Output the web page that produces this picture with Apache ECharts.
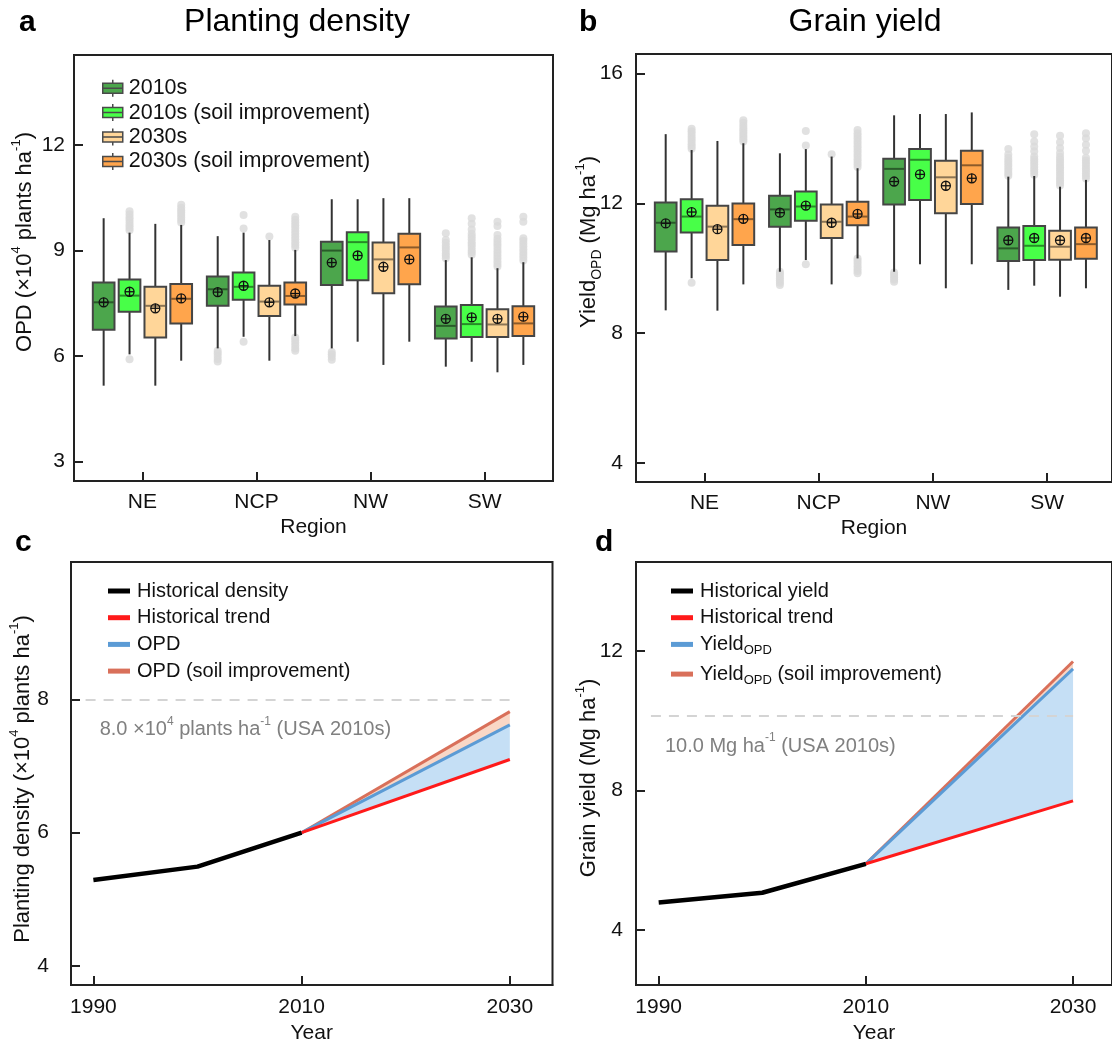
<!DOCTYPE html>
<html>
<head>
<meta charset="utf-8">
<title>Planting density and grain yield</title>
<script src="https://cdn.jsdelivr.net/npm/echarts@6/dist/echarts.min.js"></script>
<style>
  html, body { margin: 0; padding: 0; background: #fff; }
  #chart { width: 1112px; height: 1045px; }
</style>
</head>
<body>
<div id="chart"></div>
<script>
'use strict';

// ---------- data: panels a & b (box plots) ----------
const regions = ['NE', 'NCP', 'NW', 'SW'];
const groups = ['2010s', '2010s (soil improvement)', '2030s', '2030s (soil improvement)'];

// one row per region: [low whisker, Q1, median, Q3, high whisker, mean]
const density2010 = [
  [5.16, 6.75, 7.53, 8.09, 9.92, 7.53],
  [6.22, 7.43, 7.90, 8.26, 9.41, 7.82],
  [6.22, 8.02, 9.00, 9.25, 10.46, 8.66],
  [5.70, 6.50, 6.86, 7.41, 8.73, 7.06]
];
const density2010Soil = [
  [6.05, 7.26, 7.72, 8.18, 9.51, 7.83],
  [6.55, 7.60, 7.97, 8.38, 9.51, 8.00],
  [6.41, 8.16, 9.24, 9.52, 10.46, 8.86],
  [5.84, 6.54, 6.91, 7.45, 8.81, 7.10]
];
const density2030 = [
  [5.16, 6.53, 7.43, 7.97, 9.76, 7.36],
  [5.87, 7.14, 7.55, 8.00, 9.30, 7.53],
  [5.75, 7.79, 8.75, 9.23, 10.49, 8.54],
  [5.54, 6.54, 6.90, 7.33, 8.50, 7.06]
];
const density2030Soil = [
  [5.87, 6.93, 7.63, 8.05, 9.73, 7.64],
  [6.57, 7.47, 7.71, 8.09, 9.02, 7.78],
  [6.41, 8.04, 9.09, 9.48, 10.49, 8.75],
  [5.75, 6.57, 6.93, 7.42, 8.67, 7.12]
];

// outliers, one list per region
const densityOut2010 = [[], [5.85, 5.92, 6.0, 6.08, 6.15], [5.9, 5.98, 6.05, 6.12],
  [8.78, 8.85, 8.92, 9.0, 9.07, 9.14, 9.22, 9.3, 9.49]];
const densityOut2010Soil = [[5.91, 9.58, 9.65, 9.72, 9.8, 9.88, 9.95, 10.03, 10.12], [6.41, 9.63, 10.01], [],
  [8.88, 8.95, 9.02, 9.1, 9.17, 9.24, 9.32, 9.4, 9.48, 9.6, 9.76, 9.92]];
const densityOut2030 = [[], [9.4], [],
  [8.55, 8.62, 8.7, 8.78, 8.86, 8.94, 9.02, 9.1, 9.18, 9.26, 9.34, 9.44, 9.7, 9.82]];
const densityOut2030Soil = [[9.8, 9.87, 9.94, 10.01, 10.08, 10.15, 10.22, 10.3],
  [6.15, 6.22, 6.3, 6.38, 6.46, 6.53, 9.08, 9.16, 9.24, 9.32, 9.4, 9.48, 9.56, 9.64, 9.72, 9.8, 9.88, 9.96], [],
  [8.72, 8.8, 8.88, 8.96, 9.04, 9.12, 9.2, 9.28, 9.35, 9.82, 9.96]];

const yield2010 = [
  [8.70, 10.51, 11.40, 12.02, 14.13, 11.38],
  [9.89, 11.28, 11.81, 12.23, 13.54, 11.71],
  [9.89, 11.96, 13.06, 13.37, 14.71, 12.67],
  [9.33, 10.22, 10.61, 11.25, 12.82, 10.86]
];
const yield2010Soil = [
  [9.69, 11.10, 11.59, 12.12, 13.64, 11.73],
  [10.25, 11.46, 11.90, 12.36, 13.67, 11.93],
  [10.12, 12.10, 13.34, 13.67, 14.75, 12.89],
  [9.46, 10.25, 10.69, 11.30, 12.84, 10.93]
];
const yield2030 = [
  [8.69, 10.25, 11.28, 11.92, 13.92, 11.20],
  [9.50, 10.93, 11.43, 11.96, 13.44, 11.40],
  [9.38, 11.69, 12.80, 13.31, 14.75, 12.54],
  [9.12, 10.26, 10.66, 11.15, 12.51, 10.86]
];
const yield2030Soil = [
  [9.50, 10.71, 11.51, 11.99, 13.85, 11.52],
  [10.30, 11.32, 11.59, 12.05, 13.08, 11.67],
  [10.12, 11.98, 13.17, 13.62, 14.80, 12.77],
  [9.38, 10.29, 10.74, 11.25, 12.72, 10.93]
];

const yieldOut2010 = [[], [9.48, 9.55, 9.62, 9.69, 9.76, 9.83, 9.89], [9.58, 9.65, 9.72, 9.8, 9.87],
  [12.85, 12.92, 13.0, 13.08, 13.16, 13.24, 13.32, 13.4, 13.5, 13.67]];
const yieldOut2010Soil = [[9.55, 13.68, 13.75, 13.82, 13.9, 13.98, 14.06, 14.14, 14.22, 14.3], [10.12, 13.78, 14.23], [],
  [12.88, 12.96, 13.04, 13.12, 13.2, 13.28, 13.36, 13.44, 13.6, 13.75, 13.9, 14.13]];
const yieldOut2030 = [[], [13.51], [],
  [12.55, 12.63, 12.71, 12.79, 12.87, 12.95, 13.03, 13.11, 13.19, 13.27, 13.35, 13.43, 13.55, 13.7, 13.88, 14.08]];
const yieldOut2030Soil = [[13.9, 13.97, 14.04, 14.11, 14.18, 14.25, 14.32, 14.4, 14.48, 14.56],
  [9.84, 9.91, 9.98, 10.06, 10.14, 10.22, 10.3, 13.12, 13.2, 13.28, 13.36, 13.44, 13.52, 13.6, 13.68, 13.76, 13.84, 13.92, 14.0, 14.08, 14.16, 14.26], [],
  [12.76, 12.84, 12.92, 13.0, 13.08, 13.16, 13.24, 13.32, 13.4, 13.62, 13.8, 14.0, 14.16]];

// ---------- data: panels c & d (trends) ----------
const histYears = [1990, 2000, 2010];
const projYears = [2010, 2030];
const histDensity = [5.29, 5.49, 6.0];
const trendDensity = [6.0, 7.10];
const opdDensity = [6.0, 7.62];
const opdSoilDensity = [6.0, 7.82];
const usaDensity = 8.0;
const histYield = [4.79, 5.07, 5.90];
const trendYield = [5.90, 7.70];
const opdYield = [5.90, 11.48];
const opdSoilYield = [5.90, 11.69];
const usaYield = 10.13;

// tick labels
const densityTicks = [3, 6, 9, 12];
const yieldTicks = [4, 8, 12, 16];
const lineDensityTicks = [4, 6, 8];
const lineYieldTicks = [4, 8, 12];
const yearTicks = [1990, 2010, 2030];

// ---------- style ----------
const FONT = '"Liberation Sans", Arial, Helvetica, sans-serif';
const BOX_OFFSETS = [-0.34, -0.113, 0.113, 0.34];
const BOX_WIDTH = 0.19;
const BOX_COLORS = ['#4ca64c', '#48ff48', '#ffd699', '#ffa54c'];
const C_BLACK = '#000000', C_RED = '#ff1a1a', C_BLUE = '#5b9bd5', C_SALMON = '#d9705a';
const C_BAND_BLUE = '#c5dff5', C_BAND_PEACH = '#f9d7c6';

const chart = echarts.init(document.getElementById('chart'));

function boxRenderer(offset, fill) {
  return function (params, api) {
    const x = api.value(0) + offset;
    const low = api.coord([x, api.value(1)]);
    const q1 = api.coord([x, api.value(2)]);
    const med = api.coord([x, api.value(3)]);
    const q3 = api.coord([x, api.value(4)]);
    const high = api.coord([x, api.value(5)]);
    const mean = api.coord([x, api.value(6)]);
    const w = api.size([BOX_WIDTH, 0])[0];
    const cx = q1[0];
    const r = 4.5;
    return {
      type: 'group',
      children: [
        { type: 'line', shape: { x1: cx, y1: high[1], x2: cx, y2: low[1] }, style: { stroke: '#333', lineWidth: 2 } },
        { type: 'rect', shape: { x: cx - w / 2, y: q3[1], width: w, height: q1[1] - q3[1] },
          style: { fill: fill, stroke: '#454545', lineWidth: 2 } },
        { type: 'line', shape: { x1: cx - w / 2 + 1, y1: med[1], x2: cx + w / 2 - 1, y2: med[1] },
          style: { stroke: 'rgba(0,0,0,0.45)', lineWidth: 2 } },
        { type: 'circle', shape: { cx: cx, cy: mean[1], r: r }, style: { fill: 'none', stroke: '#111', lineWidth: 1.3 } },
        { type: 'line', shape: { x1: cx - r, y1: mean[1], x2: cx + r, y2: mean[1] }, style: { stroke: '#111', lineWidth: 1.3 } },
        { type: 'line', shape: { x1: cx, y1: mean[1] - r, x2: cx, y2: mean[1] + r }, style: { stroke: '#111', lineWidth: 1.3 } }
      ]
    };
  };
}

function boxSeries(rowsList, outList, gi) {
  const list = rowsList.map((rows, g) => ({
    type: 'custom',
    name: groups[g],
    xAxisIndex: gi,
    yAxisIndex: gi,
    z: 3,
    silent: true,
    itemStyle: { color: BOX_COLORS[g] },
    renderItem: boxRenderer(BOX_OFFSETS[g], BOX_COLORS[g]),
    data: rows.map((r, i) => [i + 1].concat(r))
  }));
  const pts = [];
  outList.forEach((perRegion, g) => {
    perRegion.forEach((vals, i) => {
      vals.forEach(v => pts.push([i + 1 + BOX_OFFSETS[g], v]));
    });
  });
  list.push({
    type: 'scatter', name: 'outliers', xAxisIndex: gi, yAxisIndex: gi, z: 2, silent: true,
    symbolSize: 8, itemStyle: { color: '#dadada' }, data: pts
  });
  return list;
}

function lineSeries(name, xs, ys, color, width, gi, z) {
  return {
    type: 'line', name: name, xAxisIndex: gi, yAxisIndex: gi, z: z, silent: true,
    symbol: 'none', showSymbol: false,
    data: xs.map((x, i) => [x, ys[i]]),
    lineStyle: { color: color, width: width, cap: 'butt' },
    itemStyle: { color: color }
  };
}

function bandSeries(lo, hi, color, gi) {
  const data = projYears.slice(1).map((x, i) => [projYears[i], lo[i], hi[i], x, lo[i + 1], hi[i + 1]]);
  return {
    type: 'custom', xAxisIndex: gi, yAxisIndex: gi, z: 1, silent: true, data: data,
    renderItem: (params, api) => ({
      type: 'polygon',
      shape: { points: [
        api.coord([api.value(0), api.value(1)]),
        api.coord([api.value(3), api.value(4)]),
        api.coord([api.value(3), api.value(5)]),
        api.coord([api.value(0), api.value(2)])
      ] },
      style: { fill: color }
    })
  };
}

function refLine(value) {
  return {
    silent: true, symbol: ['none', 'none'], label: { show: false },
    lineStyle: { color: '#d4d4d4', type: [10, 8], width: 2 },
    data: [[{ coord: [1989.25, value] }, { coord: [2030, value] }]]
  };
}

function valueAxis(gi, min, max, ticks, margin, formatter, extra) {
  return Object.assign({
    type: 'value', gridIndex: gi, min: min, max: max,
    axisLine: { show: true, onZero: false, lineStyle: { color: '#222', width: 2 } },
    axisTick: { show: true, inside: true, length: 9, customValues: ticks, lineStyle: { color: '#222', width: 2 } },
    axisLabel: { customValues: ticks, margin: margin, fontSize: 21, color: '#111', fontFamily: FONT, formatter: formatter },
    splitLine: { show: false }
  }, extra || {});
}

const xName = (name, gap) => ({
  name: name, nameLocation: 'middle', nameGap: gap,
  nameTextStyle: { fontSize: 21, color: '#111', fontFamily: FONT }
});

const regionFmt = v => regions[Math.round(v) - 1] || '';
const plainFmt = v => String(v);

const gridStyle = { show: true, borderColor: '#222', borderWidth: 2, backgroundColor: 'transparent' };

const lineLegendLabels = {
  'Historical density': '{m|Historical density}',
  'Historical trend': '{m|Historical trend}',
  'OPD': '{m|OPD}',
  'OPD (soil improvement)': '{m|OPD (soil improvement)}',
  'Historical yield': '{m|Historical yield}',
  'Yield trend': '{m|Historical trend}',
  'YieldOPD': '{m|Yield}{s|OPD}',
  'YieldOPD soil': '{m|Yield}{s|OPD}{m| (soil improvement)}'
};
const legendRich = {
  m: { fontSize: 20, lineHeight: 26, verticalAlign: 'middle', color: '#111', fontFamily: FONT },
  s: { fontSize: 13, lineHeight: 15, verticalAlign: 'bottom', color: '#111', fontFamily: FONT }
};

function lineLegend(left, names) {
  return {
    orient: 'vertical', left: left, top: 576, itemGap: 6.7, itemWidth: 22, itemHeight: 5,
    icon: 'rect', selectedMode: false, data: names,
    lineStyle: { width: 5 },
    formatter: n => lineLegendLabels[n],
    textStyle: { padding: [0, 0, 0, 2], rich: legendRich }
  };
}

const option = {
  animation: false,
  backgroundColor: '#ffffff',
  textStyle: { fontFamily: FONT },
  grid: [
    Object.assign({ left: 74, top: 55, width: 479, height: 426 }, gridStyle),
    Object.assign({ left: 636, top: 54, width: 476, height: 428 }, gridStyle),
    Object.assign({ left: 71, top: 562, width: 481.5, height: 427 }, gridStyle),
    Object.assign({ left: 636, top: 562, width: 476, height: 427 }, gridStyle)
  ],
  xAxis: [
    valueAxis(0, 0.4, 4.6, [1, 2, 3, 4], 11, regionFmt, xName('Region', 36)),
    valueAxis(1, 0.4, 4.568, [1, 2, 3, 4], 11, regionFmt, xName('Region', 36)),
    valueAxis(2, 1987.85, 2034.1, yearTicks, 12, plainFmt, xName('Year', 38)),
    valueAxis(3, 1987.81, 2033.76, yearTicks, 12, plainFmt, xName('Year', 38))
  ],
  yAxis: [
    valueAxis(0, 2.45, 14.56, densityTicks, 9, plainFmt),
    valueAxis(1, 3.41, 16.6, yieldTicks, 13, plainFmt),
    valueAxis(2, 3.71, 10.07, lineDensityTicks, 22, plainFmt),
    valueAxis(3, 2.43, 14.54, lineYieldTicks, 13, plainFmt)
  ],
  legend: [
    {
      orient: 'vertical', left: 97, top: 71, itemGap: 0, itemWidth: 20, itemHeight: 17,
      selectedMode: false, data: groups,
      icon: 'path://M0,3.5L20,3.5L20,13.5L0,13.5ZM0,8.5L20,8.5M10,0L10,3.5M10,13.5L10,17',
      itemStyle: { borderColor: '#4a4a4a', borderWidth: 1.5 },
      textStyle: { fontSize: 21.5, lineHeight: 24.4, color: '#111', fontFamily: FONT, padding: [0, 0, 0, 1] }
    },
    lineLegend(103, ['Historical density', 'Historical trend', 'OPD', 'OPD (soil improvement)']),
    lineLegend(666, ['Historical yield', 'Yield trend', 'YieldOPD', 'YieldOPD soil'])
  ],
  series: [].concat(
    boxSeries([density2010, density2010Soil, density2030, density2030Soil],
      [densityOut2010, densityOut2010Soil, densityOut2030, densityOut2030Soil], 0),
    boxSeries([yield2010, yield2010Soil, yield2030, yield2030Soil],
      [yieldOut2010, yieldOut2010Soil, yieldOut2030, yieldOut2030Soil], 1),
    [
      bandSeries(trendDensity, opdDensity, C_BAND_BLUE, 2),
      bandSeries(opdDensity, opdSoilDensity, C_BAND_PEACH, 2),
      Object.assign(lineSeries('OPD (soil improvement)', projYears, opdSoilDensity, C_SALMON, 3, 2, 3),
        { markLine: refLine(usaDensity) }),
      lineSeries('OPD', projYears, opdDensity, C_BLUE, 3, 2, 4),
      lineSeries('Historical trend', projYears, trendDensity, C_RED, 3, 2, 5),
      lineSeries('Historical density', histYears, histDensity, C_BLACK, 4.5, 2, 6),

      bandSeries(trendYield, opdYield, C_BAND_BLUE, 3),
      bandSeries(opdYield, opdSoilYield, C_BAND_PEACH, 3),
      Object.assign(lineSeries('YieldOPD soil', projYears, opdSoilYield, C_SALMON, 3, 3, 3),
        { markLine: refLine(usaYield) }),
      lineSeries('YieldOPD', projYears, opdYield, C_BLUE, 3, 3, 4),
      lineSeries('Yield trend', projYears, trendYield, C_RED, 3, 3, 5),
      lineSeries('Historical yield', histYears, histYield, C_BLACK, 4.5, 3, 6)
    ]
  )
};

chart.setOption(option);

// ---------- texts: panel letters, titles, y-axis names, reference notes ----------
const yRich = {
  m: { fontSize: 22, lineHeight: 30, verticalAlign: 'middle', fill: '#111', fontFamily: FONT },
  sup: { fontSize: 13, lineHeight: 22, verticalAlign: 'top', fill: '#111', fontFamily: FONT },
  sub: { fontSize: 14, lineHeight: 16, verticalAlign: 'bottom', fill: '#111', fontFamily: FONT }
};
const noteRich = {
  g: { fontSize: 20, lineHeight: 28, verticalAlign: 'middle', fill: '#808080', fontFamily: FONT },
  gs: { fontSize: 12, lineHeight: 20, verticalAlign: 'top', fill: '#808080', fontFamily: FONT }
};

function letter(t, x, y) {
  return { type: 'text', x: x, y: y, style: { text: t, font: 'bold 30px ' + FONT, fill: '#000', align: 'left', verticalAlign: 'middle' } };
}
function heading(t, x, y) {
  return { type: 'text', x: x, y: y, style: { text: t, font: '32px ' + FONT, fill: '#000', align: 'center', verticalAlign: 'middle' } };
}
function yTitle(t, x, y) {
  return { type: 'text', x: x, y: y, rotation: Math.PI / 2,
    style: { text: t, rich: yRich, align: 'center', verticalAlign: 'middle' } };
}
function note(t, gi, xVal, yVal) {
  const p = chart.convertToPixel({ gridIndex: gi }, [xVal, yVal]);
  return { type: 'text', x: p[0], y: p[1] + 30,
    style: { text: t, rich: noteRich, align: 'left', verticalAlign: 'middle' } };
}

chart.setOption({
  graphic: [
    letter('a', 19, 22.5), letter('b', 579, 22.5), letter('c', 15, 542.5), letter('d', 595, 542.5),
    heading('Planting density', 297, 22), heading('Grain yield', 865, 22),
    yTitle('{m|OPD (×10}{sup|4}{m| plants ha}{sup|-1}{m|)}', 25, 242),
    yTitle('{m|Yield}{sub|OPD}{m| (Mg ha}{sup|-1}{m|)}', 589, 242),
    yTitle('{m|Planting density (×10}{sup|4}{m| plants ha}{sup|-1}{m|)}', 23, 779),
    yTitle('{m|Grain yield (Mg ha}{sup|-1}{m|)}', 589, 778),
    note('{g|8.0 ×10}{gs|4}{g| plants ha}{gs|-1}{g| (USA 2010s)}', 2, 1990.6, usaDensity),
    note('{g|10.0 Mg ha}{gs|-1}{g| (USA 2010s)}', 3, 1990.6, usaYield)
  ]
});
</script>
</body>
</html>
